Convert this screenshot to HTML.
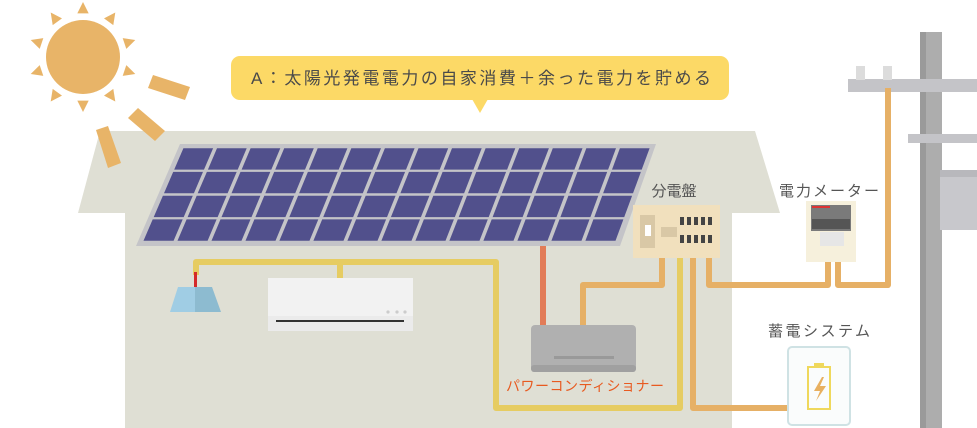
<!DOCTYPE html>
<html><head><meta charset="utf-8"><style>
html,body{margin:0;padding:0;background:#fff;}
svg{display:block;font-family:"Liberation Sans","Noto Sans CJK JP",sans-serif;}
</style></head><body>
<svg width="977" height="428" viewBox="0 0 977 428">
<g>
<rect x="920" y="32" width="22" height="396" fill="#adadad"/>
<rect x="920" y="32" width="6" height="396" fill="#9a9a9a"/>
<rect x="848" y="79" width="129" height="13" fill="#c4c4c8"/>
<rect x="856" y="66" width="9" height="14" fill="#dcdcdc"/>
<rect x="883" y="66" width="9" height="14" fill="#dcdcdc"/>
<rect x="908" y="134" width="69" height="9" fill="#c4c4c8"/>
<rect x="940" y="170" width="37" height="60" fill="#c8c8cc"/>
<rect x="940" y="170" width="37" height="7" fill="#b8b8bc"/>
</g>
<g>
<polygon points="100,131 755,131 780,213 732,213 732,428 125,428 125,213 78,213" fill="#dfdfd4"/>
</g>
<g fill="#e8b468">
<circle cx="83" cy="57" r="37"/>
<g id="tris"></g>
<polygon points="153,75 190,87 185,100 148,88"/>
<polygon points="138,108 165,131 155,141 128,118"/>
<polygon points="96,130 108,126 121,163 108,168"/>
</g>
<g id="panel">
<polygon points="180,144 656,144 620,246 136,246" fill="#c4c4c8"/>
</g>
<g fill="none" stroke-linejoin="round">
<path d="M196,275 V262 H496 V408 H680 V258" stroke="#e6cc62" stroke-width="6"/>
<path d="M340,262 V279" stroke="#e6cc62" stroke-width="6"/>
<path d="M543,246 V326" stroke="#e27c58" stroke-width="6"/>
<path d="M583,326 V285 H662 V257" stroke="#e6b066" stroke-width="6"/>
<path d="M709,257 V285 H828 V261" stroke="#e6b066" stroke-width="6"/>
<path d="M838,261 V285 H888 V88" stroke="#e6b066" stroke-width="6"/>
<path d="M693,257 V408 H790" stroke="#e6b066" stroke-width="6"/>
</g>
<g>
<rect x="194" y="272" width="3" height="15" fill="#d42a2a"/>
<polygon points="178,287 195,287 195,312 170,312" fill="#a0cde4"/>
<polygon points="195,287 212,287 221,312 195,312" fill="#8dbbd0"/>
</g>
<g>
<rect x="268" y="278" width="145" height="53" fill="#f2f2f2"/>
<rect x="268" y="316" width="145" height="15" fill="#ebebeb"/>
<rect x="276" y="320" width="128" height="2" fill="#333"/>
<circle cx="388" cy="312" r="1.6" fill="#ccc"/><circle cx="397" cy="312" r="1.6" fill="#ccc"/><circle cx="405" cy="312" r="1.6" fill="#ccc"/>
</g>
<g>
<rect x="531" y="325" width="105" height="47" rx="4" fill="#b0b0b0"/>
<rect x="531" y="365" width="105" height="7" rx="3" fill="#a0a0a0"/>
<rect x="554" y="356" width="60" height="3" fill="#999"/>
<text x="585" y="391" font-size="14" fill="#e85a20" text-anchor="middle" textLength="158">パワーコンディショナー</text>
</g>
<g>
<text x="674" y="196" font-size="15" fill="#555" text-anchor="middle">分電盤</text>
<rect x="633" y="205" width="87" height="53" fill="#f1e0bd"/>
<rect x="640" y="215" width="15" height="33" fill="#d9c8a6"/>
<rect x="645" y="225" width="6" height="11" fill="#fff"/>
<rect x="661" y="227" width="16" height="10" fill="#d9c8a6"/>
<g id="breakers"></g>
</g>
<g>
<text x="829" y="196" font-size="15" fill="#555" text-anchor="middle" textLength="100">電力メーター</text>
<rect x="806" y="201" width="50" height="61" fill="#f6f0dc"/>
<rect x="811" y="205" width="40" height="26" fill="#7a7a7a"/>
<rect x="812" y="206" width="18" height="2" fill="#d33"/>
<rect x="812" y="219" width="38" height="10" fill="#555"/>
<rect x="820" y="232" width="24" height="14" fill="#e6e6e6"/>
</g>
<g>
<text x="819" y="336" font-size="15" fill="#555" text-anchor="middle" textLength="102">蓄電システム</text>
<rect x="788" y="347" width="62" height="78" rx="4" fill="#fafcfc" stroke="#cfe2e4" stroke-width="2"/>
<rect x="814" y="363" width="10" height="4" fill="#efd85c"/>
<rect x="808" y="367" width="22" height="42" fill="none" stroke="#efd85c" stroke-width="2"/>
<polygon points="822,377 814,391 820,391 816,401 826,386 820,386 824,377" fill="#e8b060"/>
</g>
<g>
<rect x="231" y="56" width="498" height="44" rx="9" fill="#fcd966"/>
<polygon points="472,99 488,99 480,113" fill="#fcd966"/>
<text x="251" y="84" font-size="17" fill="#4a4a4a" textLength="460">A：太陽光発電電力の自家消費＋余った電力を貯める</text>
</g>
</svg>
<script>
var NS='http://www.w3.org/2000/svg';
var tris=document.getElementById('tris');
for(var k=0;k<10;k++){
 var a=(-90+36*k)*Math.PI/180, r1=44, r2=55, w=0.13;
 var cx=83,cy=57;
 var p=document.createElementNS(NS,'polygon');
 var pts=[[cx+r2*Math.cos(a),cy+r2*Math.sin(a)],[cx+r1*Math.cos(a-w),cy+r1*Math.sin(a-w)],[cx+r1*Math.cos(a+w),cy+r1*Math.sin(a+w)]];
 p.setAttribute('points',pts.map(function(q){return q[0].toFixed(1)+','+q[1].toFixed(1);}).join(' '));
 
 
 tris.appendChild(p);
}
var panel=document.getElementById('panel');
var rows=4,cols=14,x0=182,x1=652,y0=147,y1=242,xb0=141,xb1=617;
function X(t,u){var f=(t-y0)/(y1-y0);var L=x0+(xb0-x0)*f,R=x1+(xb1-x1)*f;return L+(R-L)*u;}
for(var r=0;r<rows;r++){for(var c=0;c<cols;c++){
 var ta=y0+(y1-y0)*r/rows+1.2, tb=y0+(y1-y0)*(r+1)/rows-1.2;
 var u0=c/cols+0.002,u1=(c+1)/cols-0.002;
 var p=document.createElementNS(NS,'polygon');
 p.setAttribute('points',[X(ta,u0)+1,ta,X(ta,u1)-1,ta,X(tb,u1)-1,tb,X(tb,u0)+1,tb].map(function(v){return v.toFixed(1)}).join(' ').replace(/(\S+) (\S+)/g,'$1,$2'));
 p.setAttribute('fill','#51508c');
 
 
 panel.appendChild(p);
}}
var br=document.getElementById('breakers');
for(var rr=0;rr<2;rr++)for(var i=0;i<5;i++){
 var b=document.createElementNS(NS,'rect');
 b.setAttribute('x',680+i*7);b.setAttribute('y',217+rr*18);b.setAttribute('width',4);b.setAttribute('height',8);b.setAttribute('fill','#444');
 
 
 br.appendChild(b);
}
</script>
</body></html>
